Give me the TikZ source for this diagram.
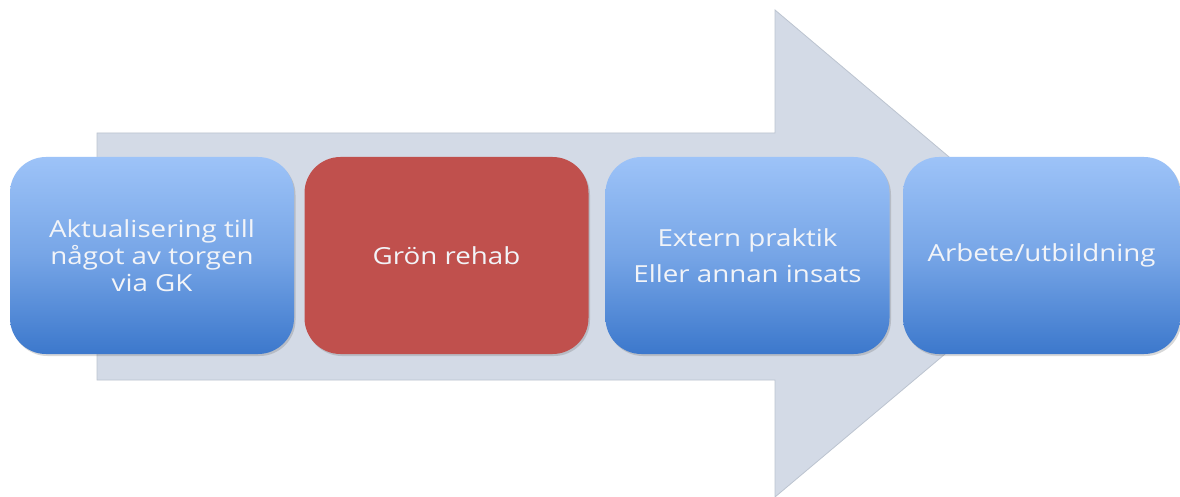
\documentclass[tikz,border=0pt]{standalone}
\usepackage{fontspec}
\setmainfont{Open Sans}
\newfontfamily\labfont[FakeStretch=1.18]{Open Sans}
\usetikzlibrary{shadows}
\definecolor{arrowfill}{HTML}{D3DAE6}
\definecolor{arrowedge}{HTML}{BCC4D0}
\definecolor{bluetop}{HTML}{9DC3F8}
\definecolor{bluebot}{HTML}{3C78CC}
\definecolor{redfill}{HTML}{C0504D}
\definecolor{txt}{HTML}{F2F4F8}
\tikzset{
  stage/.style={rounded corners=36pt, minimum width=284pt, minimum height=197pt,
    inner sep=0pt, draw=none,
    drop shadow={shadow xshift=1.5pt, shadow yshift=-2pt, opacity=0.25, fill=black!60}},
  bluestage/.style={stage, top color=bluetop, bottom color=bluebot, middle color=bluetop!60!bluebot},
  redstage/.style={stage, fill=redfill},
  label/.style={text=txt, font=\labfont\fontsize{23.5}{27}\selectfont, align=center}
}
\begin{document}
\begin{tikzpicture}[x=1pt,y=-1pt]
\useasboundingbox (0,0) rectangle (1180,497);
\fill[white] (0,0) rectangle (1180,497);
% big arrow
\filldraw[fill=arrowfill, draw=arrowedge, line width=0.8pt]
  (97,133) -- (775,133) -- (775,10) -- (1064,254) -- (775,497) -- (775,380) -- (97,380) -- cycle;
% stages
\node[bluestage] (s1) at (152,255.5) {};
\node[redstage]  (s2) at (446.5,255.5) {};
\node[bluestage] (s3) at (747.5,255.5) {};
\node[bluestage, minimum width=277pt] (s4) at (1041.5,255.5) {};
\node[label] (t1) at (s1) {Aktualisering till\\något av torgen\\via GK};
\node[label] (t2) at (s2) {Grön rehab};
\node[label] (t3) at (s3) {Extern praktik\\[9pt]Eller annan insats};
\node[label] (t4) at (s4) {Arbete/utbildning};
\end{tikzpicture}
\end{document}
